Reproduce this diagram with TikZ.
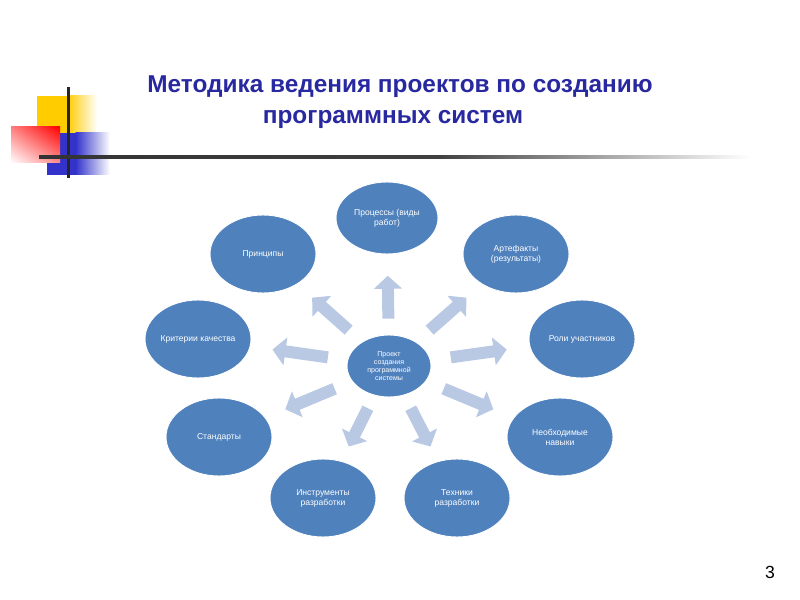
\documentclass[tikz,border=0pt]{standalone}
\usepackage{fontspec}
\setmainfont{Liberation Sans}
\usetikzlibrary{arrows.meta,calc,shapes.geometric,shadings}
\definecolor{titleblue}{RGB}{40,40,160}
\definecolor{ellblue}{RGB}{79,129,189}
\definecolor{arrblue}{RGB}{185,201,227}
\definecolor{logoyellow}{RGB}{255,204,0}
\definecolor{logoblue}{RGB}{51,51,204}
\pgfdeclarehorizontalshading{linefade}{100bp}{color(0bp)=(black!80); color(25bp)=(black!80);
	color(53bp)=(black!75); color(75bp)=(white); color(100bp)=(white)}

\begin{document}
\begin{tikzpicture}[x=0.3mm,y=-0.3mm,
	elem/.style={ellipse, fill=ellblue, draw=white, thick, text=white, align=center,
		font=\fontsize{7.3}{8.5}\selectfont, inner sep=0pt,
		minimum width=31.8mm, minimum height=23.4mm},
	fat/.style={arrblue, line width=3.6mm, -{Triangle[width=8.2mm,length=3.9mm]}}]
	\useasboundingbox[fill=white] (0,0) rectangle (800,600);
	% logo
	\fill[logoyellow] (37,96) rectangle (68,133);
	\shade[left color=logoyellow, right color=white] (67.5,96) rectangle (97,133);
	\fill[logoblue] (47,133) rectangle (76,175);
	\shade[left color=logoblue, right color=white] (75.5,133) rectangle (110,175);
	\shade[upper right=red, upper left=red!50, lower right=red!45, lower left=white] (11,127) rectangle (60,163);
	\draw[line width=0.9mm, black!85] (68,87) -- (68,178);
	\shade[shading=linefade] (39,155.5) rectangle (750,158.5);
	% title
	\node[text=titleblue, font=\fontsize{20.8}{24}\selectfont\bfseries] (t1) at (400,87) {Методика ведения проектов по созданию};
	\node[text=titleblue, font=\fontsize{20.8}{24}\selectfont\bfseries] (t2) at (393,119) {программных систем};
	% ellipses
	\node[elem, minimum width=25.2mm, minimum height=18.6mm, font=\fontsize{6}{7}\selectfont] (c) at (389,366) {Проект\\создания\\программной\\системы};
	\node[elem, minimum width=30.6mm, minimum height=21.6mm] (proc) at (387,218) {Процессы (виды\\работ)};
	\node[elem] (art) at (516,254) {Артефакты\\(результаты)};
	\node[elem] (rol) at (582,339) {Роли участников};
	\node[elem] (nav) at (560,437) {Необходимые\\навыки};
	\node[elem] (tech) at (457,498) {Техники\\разработки};
	\node[elem] (inst) at (323,498) {Инструменты\\разработки};
	\node[elem] (std) at (219,437) {Стандарты};
	\node[elem] (krit) at (198,339) {Критерии качества};
	\node[elem] (prin) at (263,254) {Принципы};
	% arrows
	\foreach \n in {proc,art,rol,nav,tech,inst,std,krit,prin}
		\draw[fat] ($(c)!0.32!(\n)$) -- ($(c)!0.61!(\n)$);
	\node[font=\fontsize{15}{18}\selectfont] (num) at (770,572) {3};
\end{tikzpicture}
\end{document}
